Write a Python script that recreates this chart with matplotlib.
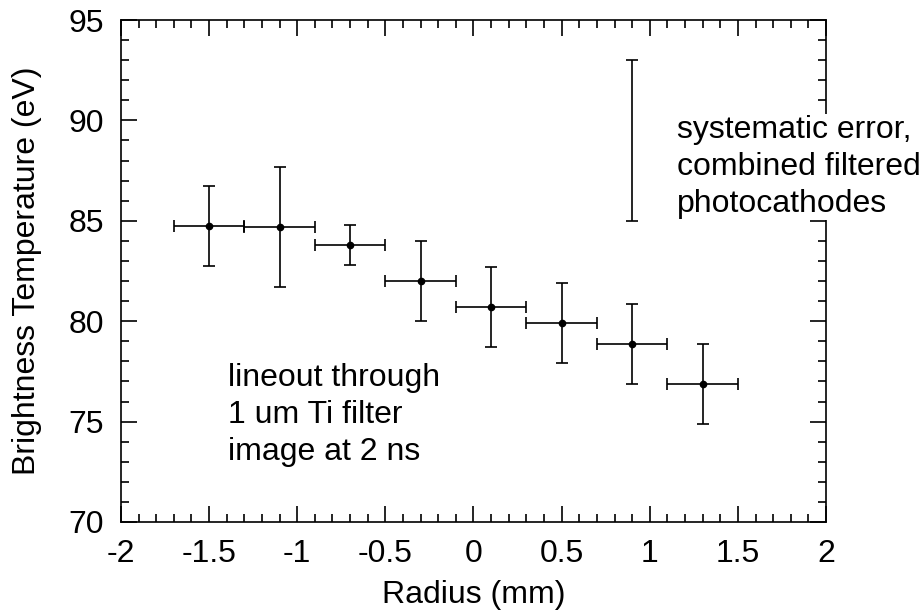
import numpy as np
import matplotlib
matplotlib.use("Agg")
import matplotlib.pyplot as plt
from matplotlib.ticker import MultipleLocator

plt.rcParams['font.family'] = ['Liberation Sans', 'DejaVu Sans']

# lineout data
radius = [-1.5, -1.1, -0.7, -0.3, 0.1, 0.5, 0.9, 1.3]
temp = [84.75, 84.7, 83.8, 82.0, 80.7, 79.9, 78.87, 76.87]
temp_err = [2.0, 3.0, 1.0, 2.0, 2.0, 2.0, 2.0, 2.0]
radius_err = [0.2, 0.2, 0.2, 0.2, 0.2, 0.2, 0.2, 0.2]

# systematic error bar
sys_x = [0.9]
sys_y = [89.0]
sys_err = [4.0]

fs = 23

fig = plt.figure(figsize=(9.22, 6.10), dpi=100)
ax = fig.add_axes([0.1312, 0.1443, 0.7647, 0.8229])

ax.errorbar(radius, temp, xerr=radius_err, yerr=temp_err, fmt='o', color='black',
            markersize=4.5, elinewidth=1.2, capsize=4.3, capthick=1.2)
ax.errorbar(sys_x, sys_y, yerr=sys_err, fmt='none', ecolor='black',
            elinewidth=1.2, capsize=4.3, capthick=1.2)

ax.text(-1.393, 75.33, "lineout through\n1 um Ti filter\nimage at 2 ns",
        fontsize=fs, va='center', ha='left', linespacing=1.31)
ax.text(1.152, 87.68, "systematic error,\ncombined filtered\nphotocathodes",
        fontsize=fs, va='center', ha='left', linespacing=1.31,
        bbox=dict(facecolor='white', edgecolor='none', pad=1), clip_on=False, zorder=5)

ax.set_xlim(-2, 2)
ax.set_ylim(70, 95)
ax.xaxis.set_major_locator(MultipleLocator(0.5))
ax.xaxis.set_minor_locator(MultipleLocator(0.1))
ax.yaxis.set_major_locator(MultipleLocator(5))
ax.yaxis.set_minor_locator(MultipleLocator(1))
ax.xaxis.set_major_formatter(plt.FuncFormatter(lambda v, p: ('%g' % v)))

ax.tick_params(which='both', direction='in', top=True, right=True, width=1.2,
               labelsize=fs, colors='black')
ax.tick_params(which='major', length=11.5)
ax.tick_params(which='minor', length=6)
ax.tick_params(axis='x', which='major', pad=12)
ax.tick_params(axis='y', which='major', pad=12)
for s in ax.spines.values():
    s.set_linewidth(1.2)

ax.set_xlabel("Radius (mm)", fontsize=fs, labelpad=8)
ax.set_ylabel("Brightness Temperature (eV)", fontsize=fs, labelpad=19)

fig.savefig("out.png", dpi=100)
